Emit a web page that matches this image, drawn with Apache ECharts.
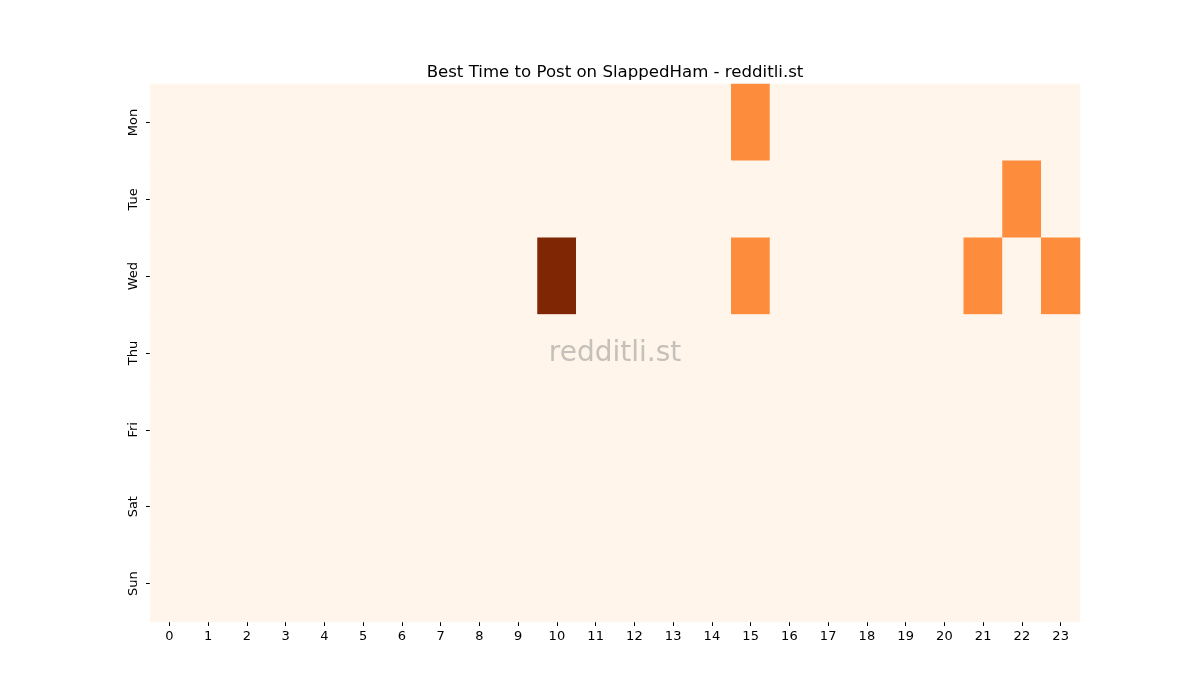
<!DOCTYPE html>
<html lang="en">
<head>
    <meta charset="utf-8">
    <title>Best Time to Post on SlappedHam</title>
    <script src="https://cdn.jsdelivr.net/npm/echarts@6/dist/echarts.min.js"></script>
    <style type="text/css">
        html, body {margin: 0; padding: 0; background: #fff;}
        #chart {width: 1200px; height: 700px;}
    </style>
</head>
<body>
    <div id="chart"></div>
    <script>
        var days = ['Mon', 'Tue', 'Wed', 'Thu', 'Fri', 'Sat', 'Sun'];
        var hours = ['0', '1', '2', '3', '4', '5', '6', '7', '8', '9', '10', '11',
                     '12', '13', '14', '15', '16', '17', '18', '19', '20', '21', '22', '23'];
        // posts per day/hour, rows = days, cols = hours
        var mon = [0,0,0,0,0,0,0,0,0,0,0,0,0,0,0,1,0,0,0,0,0,0,0,0];
        var tue = [0,0,0,0,0,0,0,0,0,0,0,0,0,0,0,0,0,0,0,0,0,0,1,0];
        var wed = [0,0,0,0,0,0,0,0,0,0,2,0,0,0,0,1,0,0,0,0,0,1,0,1];
        var thu = [0,0,0,0,0,0,0,0,0,0,0,0,0,0,0,0,0,0,0,0,0,0,0,0];
        var fri = [0,0,0,0,0,0,0,0,0,0,0,0,0,0,0,0,0,0,0,0,0,0,0,0];
        var sat = [0,0,0,0,0,0,0,0,0,0,0,0,0,0,0,0,0,0,0,0,0,0,0,0];
        var sun = [0,0,0,0,0,0,0,0,0,0,0,0,0,0,0,0,0,0,0,0,0,0,0,0];
        var rows = [mon, tue, wed, thu, fri, sat, sun];

        for (var cells = [], d = 0; d < rows.length; d++) {
            for (var h = 0; h < rows[d].length; h++) {
                cells.push([h, d, rows[d][h]]);
            }
        }

        // plot area edges, px
        var gLeft = 150, gRight = 120, gTop = 84, gBottom = 78;
        var chart = echarts.init(document.getElementById('chart'), null,
                {width: 1200, height: 700});
        var font = 'DejaVu Sans';
        chart.setOption({
            animation: false,
            backgroundColor: '#ffffff',
            title: {
                text: 'Best Time to Post on SlappedHam - redditli.st',
                left: (gLeft + 1200 - gRight) / 2 - 5, top: 59, textAlign: 'center',
                textStyle: {fontFamily: font, fontSize: 16.6, fontWeight: 'normal', color: '#000'}
            },
            grid: {left: gLeft, right: gRight, top: gTop, bottom: gBottom},
            xAxis: {
                type: 'category', data: hours,
                axisLine: {show: false},
                axisTick: {show: true, alignWithLabel: true, length: 4,
                           lineStyle: {color: '#000', width: 1}},
                axisLabel: {fontFamily: font, fontSize: 13, color: '#000', margin: 8, interval: 0},
                splitLine: {show: false}
            },
            yAxis: {
                type: 'category', data: days, inverse: true,
                axisLine: {show: false},
                axisTick: {show: true, alignWithLabel: true, length: 4,
                           lineStyle: {color: '#000', width: 1}},
                axisLabel: {fontFamily: font, fontSize: 13, color: '#000', rotate: 90, margin: 10},
                splitLine: {show: false}
            },
            visualMap: {
                show: false, type: 'continuous', min: 0, max: 2, dimension: 2,
                inRange: {color: ['#fff5eb', '#fd8d3c', '#7f2704']}
            },
            graphic: [{
                type: 'text', z: 100,
                x: (gLeft + 1200 - gRight) / 2, y: (gTop + 700 - gBottom) / 2 + 1,
                style: {
                    text: 'redditli.st', fontFamily: font, fontSize: 28,
                    fill: 'rgba(128,128,128,0.45)', align: 'center', verticalAlign: 'middle'
                }
            }],
            series: [{
                type: 'heatmap', data: cells,
                itemStyle: {borderWidth: 0},
                emphasis: {disabled: true}
            }]
        });
    </script>
</body>
</html>
